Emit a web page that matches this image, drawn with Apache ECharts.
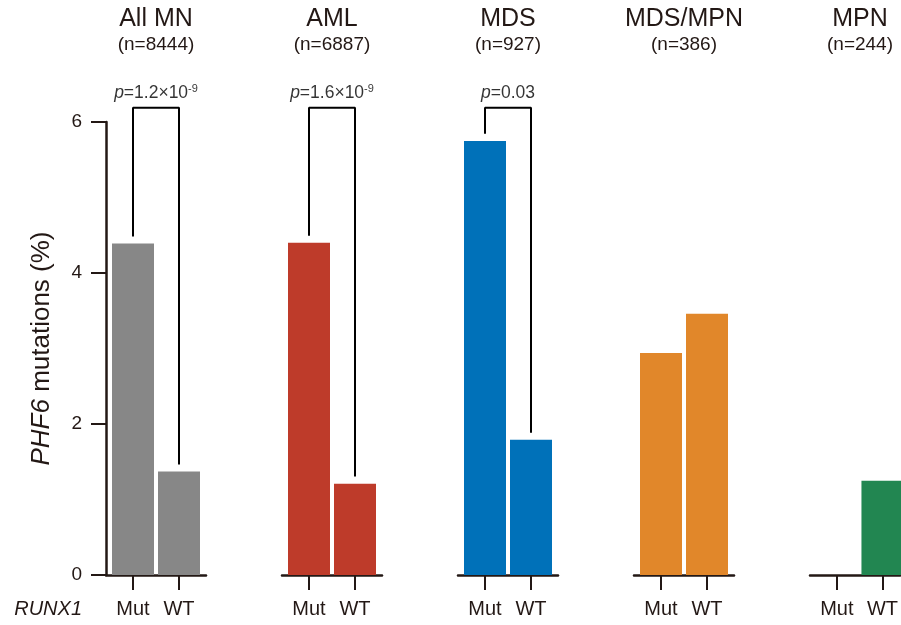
<!DOCTYPE html>
<html><head><meta charset="utf-8">
<script src="https://cdn.jsdelivr.net/npm/echarts@6/dist/echarts.min.js"></script>
<style>html,body{margin:0;padding:0;background:#fff}#c{width:901px;height:625px}</style>
</head><body><div id="c"></div>
<script>
// ---- data ----
const panelNames = ['All MN', 'AML', 'MDS', 'MDS/MPN', 'MPN'];
const panelCounts = ['(n=8444)', '(n=6887)', '(n=927)', '(n=386)', '(n=244)'];
const categories = ['Mut', 'WT'];
const mutValues = [4.39, 4.40, 5.75, 2.94, 0];
const wtValues = [1.37, 1.21, 1.79, 3.46, 1.25];
const pBase = ['1.2×10', '1.6×10', '0.03', null, null];
const pExp = ['-9', '-9', '', null, null];
const yTicks = [0, 2, 4, 6];
const yNameItalic = 'PHF6';
const yNameRest = ' mutations (%)';
const geneLabel = 'RUNX1';
const barColors = ['#878787', '#be3b2a', '#0071b9', '#e1872a', '#228651'];

// ---- layout / style ----
const FONT = "'Liberation Sans', Arial, Helvetica, sans-serif";
const INK = '#231815';
const CANVAS_W = 901;
const LEFT0 = 106, STEP = 176, GW = 100, GTOP = 122, GH = 453;
const PX_PER_UNIT = 46, PAD_PX = 27;
const XMIN = -PAD_PX / PX_PER_UNIT;
const BRACKET_TOP = 6.19, BRACKET_GAP = 0.093;

const chart = echarts.init(document.getElementById('c'));
const grids = [], xAxes = [], yAxes = [], series = [], graphics = [];

panelNames.forEach((name, i) => {
  const left = LEFT0 + STEP * i;
  const width = Math.min(GW, CANVAS_W - left);
  grids.push({left: left, top: GTOP, width: width, height: GH});
  xAxes.push({
    type: 'value', gridIndex: i, min: XMIN, max: XMIN + width / PX_PER_UNIT,
    splitLine: {show: false},
    axisLine: {show: true, onZero: false, lineStyle: {color: INK, width: 2.5}},
    axisTick: {show: true, customValues: [0, 1], length: 15, lineStyle: {color: INK, width: 2}},
    axisLabel: {show: true, customValues: [0, 1], margin: 24, fontSize: 20, fontFamily: FONT, color: INK,
      formatter: v => categories[Math.round(v)]}
  });
  const y = {
    type: 'value', gridIndex: i, min: yTicks[0], max: yTicks[yTicks.length - 1], interval: 2,
    splitLine: {show: false}
  };
  if (i === 0) {
    Object.assign(y, {
      axisLine: {show: true, onZero: false, lineStyle: {color: INK, width: 2.5}},
      axisTick: {show: true, length: 15, lineStyle: {color: INK, width: 2}},
      axisLabel: {margin: 24, fontSize: 19, fontFamily: FONT, color: INK},
      name: '{i|' + yNameItalic + '}{r|' + yNameRest + '}',
      nameLocation: 'middle', nameGap: 51,
      nameTextStyle: {fontSize: 26, fontFamily: FONT, color: INK,
        rich: {i: {fontStyle: 'italic', fontSize: 26, fontFamily: FONT, color: INK},
               r: {fontSize: 26, fontFamily: FONT, color: INK}}}
    });
  } else {
    Object.assign(y, {show: false});
  }
  yAxes.push(y);

  series.push({
    type: 'bar', xAxisIndex: i, yAxisIndex: i, barWidth: 42, clip: false,
    itemStyle: {color: barColors[i]},
    data: [[0, mutValues[i]], [1, wtValues[i]]],
    silent: true
  });

  if (pBase[i] !== null) {
    series.push({
      type: 'line', xAxisIndex: i, yAxisIndex: i, symbol: 'none', clip: false, silent: true,
      lineStyle: {color: '#000', width: 2},
      data: [[0, mutValues[i] + BRACKET_GAP], [0, BRACKET_TOP], [1, BRACKET_TOP], [1, wtValues[i] + BRACKET_GAP]]
    });
    series.push({
      type: 'scatter', xAxisIndex: i, yAxisIndex: i, symbolSize: 0, clip: false, silent: true,
      data: [[0.5, BRACKET_TOP]],
      label: {
        show: true, position: 'top', distance: 5,
        formatter: '{i|p}{n|=' + pBase[i] + '}' + (pExp[i] ? '{s|' + pExp[i] + '}' : ''),
        rich: {
          i: {fontStyle: 'italic', fontSize: 17.5, fontFamily: FONT, color: '#000', lineHeight: 19},
          n: {fontSize: 17.5, fontFamily: FONT, color: '#000', lineHeight: 19},
          s: {fontSize: 11, fontFamily: FONT, color: '#000', verticalAlign: 'top', lineHeight: 19, padding: [0, 0, 8, 0]}
        }
      }
    });
  }

  const cx = left + GW / 2;
  graphics.push({type: 'text', x: cx, y: 19,
    style: {text: name, font: '25px ' + FONT, fill: INK, textAlign: 'center', textVerticalAlign: 'middle', align: 'center', verticalAlign: 'middle'}});
  graphics.push({type: 'text', x: cx, y: 45,
    style: {text: panelCounts[i], font: '19px ' + FONT, fill: INK, textAlign: 'center', textVerticalAlign: 'middle', align: 'center', verticalAlign: 'middle'}});
});

graphics.push({type: 'text', x: 82, y: 609,
  style: {text: geneLabel, font: 'italic 20px ' + FONT, fill: INK, textAlign: 'right', textVerticalAlign: 'middle', align: 'right', verticalAlign: 'middle'}});

chart.setOption({
  animation: false,
  backgroundColor: '#fff',
  grid: grids, xAxis: xAxes, yAxis: yAxes, series: series, graphic: graphics
});
</script></body></html>
